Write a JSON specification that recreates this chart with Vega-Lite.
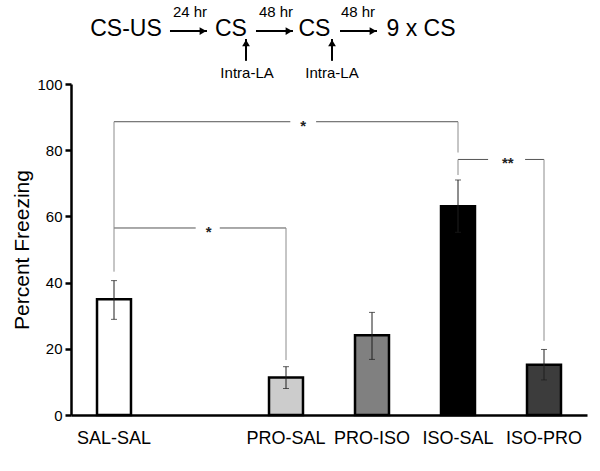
{
  "$schema": "https://vega.github.io/schema/vega-lite/v6.json",
  "width": 516,
  "height": 331,
  "autosize": {"type": "none"},
  "padding": {"left": 71, "top": 84, "right": 13, "bottom": 56},
  "background": "white",
  "config": {
    "view": {"stroke": null},
    "font": "Liberation Sans",
    "text": {"font": "Liberation Sans", "color": "black"}
  },
  "datasets": {
    "bars": [
      {"group": "SAL-SAL", "mean": 35.0, "lower": 28.9, "upper": 40.6},
      {"group": "PRO-SAL", "mean": 11.3, "lower": 8.0, "upper": 14.6},
      {"group": "PRO-ISO", "mean": 24.1, "lower": 16.8, "upper": 31.0},
      {"group": "ISO-SAL", "mean": 63.1, "lower": 55.2, "upper": 71.0},
      {"group": "ISO-PRO", "mean": 15.2, "lower": 10.6, "upper": 19.8}
    ],
    "bracketH": [
      {"x": 0.5, "x2": 2.55, "y": 88.6, "y2": 88.6},
      {"x": 2.85, "x2": 4.5, "y": 88.6, "y2": 88.6},
      {"x": 0.5, "x2": 1.45, "y": 56.5, "y2": 56.5},
      {"x": 1.73, "x2": 2.5, "y": 56.5, "y2": 56.5},
      {"x": 4.5, "x2": 4.85, "y": 77.2, "y2": 77.2},
      {"x": 5.28, "x2": 5.5, "y": 77.2, "y2": 77.2}
    ],
    "bracketV": [
      {"x": 0.5, "x2": 0.5, "y": 43.3, "y2": 88.6},
      {"x": 4.5, "x2": 4.5, "y": 79.3, "y2": 88.6},
      {"x": 2.5, "x2": 2.5, "y": 16.6, "y2": 56.5},
      {"x": 4.5, "x2": 4.5, "y": 72.5, "y2": 77.2},
      {"x": 5.5, "x2": 5.5, "y": 22.4, "y2": 77.2}
    ],
    "stars": [
      {"label": "*", "x": 2.70, "y": 88.6},
      {"label": "*", "x": 1.60, "y": 56.5},
      {"label": "**", "x": 5.08, "y": 77.2}
    ],
    "headerBig": [
      {"label": "CS-US", "x": 0.64, "y": 114.5},
      {"label": "CS", "x": 1.86, "y": 114.5},
      {"label": "CS", "x": 2.83, "y": 114.5},
      {"label": "9 x CS", "x": 4.07, "y": 114.5}
    ],
    "headerSmall": [
      {"label": "24 hr", "x": 1.384, "y": 120.2},
      {"label": "48 hr", "x": 2.384, "y": 120.2},
      {"label": "48 hr", "x": 3.337, "y": 120.2},
      {"label": "Intra-LA", "x": 2.047, "y": 101.9},
      {"label": "Intra-LA", "x": 3.035, "y": 101.9}
    ],
    "arrowsH": [
      {"x": 1.151, "x2": 1.581, "y": 116.0},
      {"x": 2.151, "x2": 2.581, "y": 116.0},
      {"x": 3.128, "x2": 3.558, "y": 116.0}
    ],
    "arrowsV": [
      {"x": 2.035, "y": 107.0, "y2": 113.6},
      {"x": 3.035, "y": 107.0, "y2": 113.6}
    ]
  },
  "layer": [
    {
      "data": {"name": "bars"},
      "encoding": {
        "x": {
          "field": "group",
          "type": "nominal",
          "sort": null,
          "scale": {
            "domain": ["SAL-SAL", " ", "PRO-SAL", "PRO-ISO", "ISO-SAL", "ISO-PRO"],
            "paddingInner": 0.605,
            "paddingOuter": 0.3025
          },
          "axis": {
            "title": null,
            "labelAngle": 0,
            "labelFontSize": 18,
            "labelColor": "black",
            "labelPadding": 14,
            "ticks": false,
            "tickSize": 0,
            "domainColor": "black",
            "domainWidth": 2.5,
            "grid": false
          }
        }
      },
      "layer": [
        {
          "mark": {"type": "bar", "stroke": "black", "strokeWidth": 2.5},
          "encoding": {
            "y": {
              "field": "mean",
              "type": "quantitative",
              "scale": {"domain": [0, 100], "nice": false},
              "axis": {
                "title": "Percent Freezing",
                "titleFontSize": 21,
                "titleFontWeight": "normal",
                "titleColor": "black",
                "titlePadding": 4,
                "values": [0, 20, 40, 60, 80, 100],
                "labelFontSize": 15,
                "labelColor": "black",
                "labelPadding": 3,
                "tickSize": 6,
                "tickWidth": 2.5,
                "tickColor": "black",
                "domainColor": "black",
                "domainWidth": 2.5,
                "grid": false
              }
            },
            "fill": {
              "field": "group",
              "type": "nominal",
              "scale": {
                "domain": ["SAL-SAL", "PRO-SAL", "PRO-ISO", "ISO-SAL", "ISO-PRO"],
                "range": ["#ffffff", "#cccccc", "#808080", "#000000", "#3c3c3c"]
              },
              "legend": null
            }
          }
        },
        {
          "mark": {"type": "rule", "color": "#1e1e1e", "strokeWidth": 1},
          "encoding": {
            "y": {"field": "lower", "type": "quantitative", "scale": {"domain": [0, 100], "nice": false}},
            "y2": {"field": "upper"}
          }
        },
        {
          "mark": {"type": "tick", "color": "#1e1e1e", "thickness": 1, "size": 6},
          "encoding": {
            "y": {"field": "upper", "type": "quantitative", "scale": {"domain": [0, 100], "nice": false}}
          }
        },
        {
          "mark": {"type": "tick", "color": "#1e1e1e", "thickness": 1, "size": 6},
          "encoding": {
            "y": {"field": "lower", "type": "quantitative", "scale": {"domain": [0, 100], "nice": false}}
          }
        }
      ]
    },
    {
      "data": {"name": "bracketH"},
      "mark": {"type": "rule", "color": "#555555", "strokeWidth": 1},
      "encoding": {
        "x": {"field": "x", "type": "quantitative", "scale": {"domain": [0, 6], "nice": false, "zero": false}, "axis": null},
        "x2": {"field": "x2"},
        "y": {"field": "y", "type": "quantitative", "scale": {"domain": [0, 100], "nice": false}},
        "y2": {"field": "y2"}
      }
    },
    {
      "data": {"name": "bracketV"},
      "mark": {"type": "rule", "color": "#8c8c8c", "strokeWidth": 1},
      "encoding": {
        "x": {"field": "x", "type": "quantitative", "scale": {"domain": [0, 6], "nice": false, "zero": false}, "axis": null},
        "x2": {"field": "x2"},
        "y": {"field": "y", "type": "quantitative", "scale": {"domain": [0, 100], "nice": false}},
        "y2": {"field": "y2"}
      }
    },
    {
      "data": {"name": "stars"},
      "mark": {"type": "text", "fontSize": 15, "fontWeight": "bold", "align": "center", "baseline": "middle", "dy": 4, "color": "#222222"},
      "encoding": {
        "x": {"field": "x", "type": "quantitative", "scale": {"domain": [0, 6], "nice": false, "zero": false}, "axis": null},
        "y": {"field": "y", "type": "quantitative", "scale": {"domain": [0, 100], "nice": false}},
        "text": {"field": "label"}
      }
    },
    {
      "data": {"name": "headerBig"},
      "mark": {"type": "text", "fontSize": 23, "align": "center", "baseline": "alphabetic", "color": "black"},
      "encoding": {
        "x": {"field": "x", "type": "quantitative", "scale": {"domain": [0, 6], "nice": false, "zero": false}, "axis": null},
        "y": {"field": "y", "type": "quantitative", "scale": {"domain": [0, 100], "nice": false}},
        "text": {"field": "label"}
      }
    },
    {
      "data": {"name": "headerSmall"},
      "mark": {"type": "text", "fontSize": 15, "align": "center", "baseline": "alphabetic", "color": "black"},
      "encoding": {
        "x": {"field": "x", "type": "quantitative", "scale": {"domain": [0, 6], "nice": false, "zero": false}, "axis": null},
        "y": {"field": "y", "type": "quantitative", "scale": {"domain": [0, 100], "nice": false}},
        "text": {"field": "label"}
      }
    },
    {
      "data": {"name": "arrowsH"},
      "mark": {"type": "rule", "color": "black", "strokeWidth": 2},
      "encoding": {
        "x": {"field": "x", "type": "quantitative", "scale": {"domain": [0, 6], "nice": false, "zero": false}, "axis": null},
        "x2": {"field": "x2"},
        "y": {"field": "y", "type": "quantitative", "scale": {"domain": [0, 100], "nice": false}}
      }
    },
    {
      "data": {"name": "arrowsH"},
      "mark": {"type": "point", "shape": "triangle-right", "filled": true, "size": 60, "color": "black", "opacity": 1, "xOffset": -4},
      "encoding": {
        "x": {"field": "x2", "type": "quantitative", "scale": {"domain": [0, 6], "nice": false, "zero": false}, "axis": null},
        "y": {"field": "y", "type": "quantitative", "scale": {"domain": [0, 100], "nice": false}}
      }
    },
    {
      "data": {"name": "arrowsV"},
      "mark": {"type": "rule", "color": "black", "strokeWidth": 2},
      "encoding": {
        "x": {"field": "x", "type": "quantitative", "scale": {"domain": [0, 6], "nice": false, "zero": false}, "axis": null},
        "y": {"field": "y", "type": "quantitative", "scale": {"domain": [0, 100], "nice": false}},
        "y2": {"field": "y2"}
      }
    },
    {
      "data": {"name": "arrowsV"},
      "mark": {"type": "point", "shape": "triangle-up", "filled": true, "size": 60, "color": "black", "opacity": 1, "yOffset": 4},
      "encoding": {
        "x": {"field": "x", "type": "quantitative", "scale": {"domain": [0, 6], "nice": false, "zero": false}, "axis": null},
        "y": {"field": "y2", "type": "quantitative", "scale": {"domain": [0, 100], "nice": false}}
      }
    }
  ],
  "resolve": {"scale": {"x": "independent"}}
}
